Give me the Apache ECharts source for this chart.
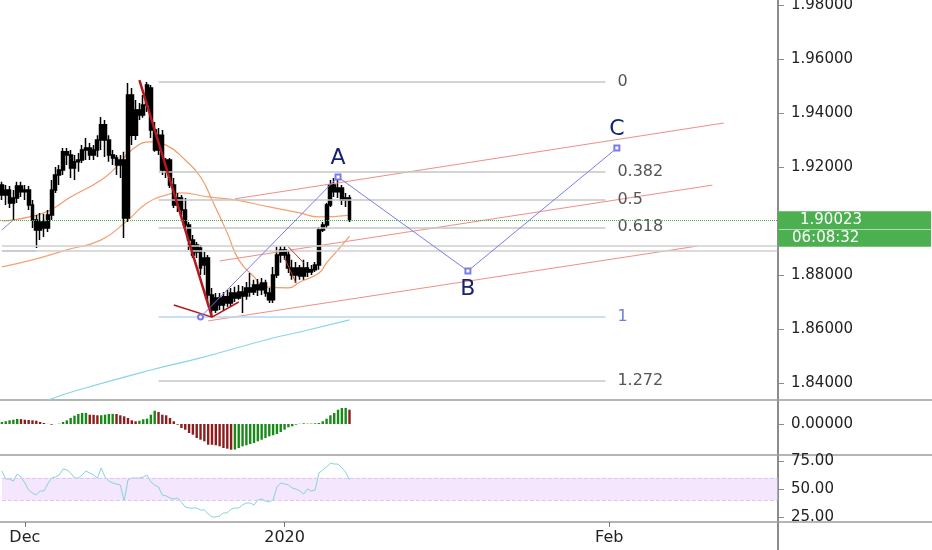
<!DOCTYPE html>
<html><head><meta charset="utf-8">
<script src="https://cdn.jsdelivr.net/npm/echarts@6/dist/echarts.min.js"></script>
<style>html,body{margin:0;padding:0;background:#fff}#c{width:932px;height:550px}</style>
</head><body><div id="c"></div>
<script>
// ---------- data ----------
const opens = [1.9133,1.9096,1.9115,1.9067,1.9085,1.9130,1.9108,1.9115,1.9059,1.9004,
 1.8967,1.8996,1.8974,1.9022,1.9115,1.9170,1.9189,1.9256,1.9244,1.9196,
 1.9219,1.9226,1.9263,1.9270,1.9244,1.9263,1.9300,1.9356,1.9300,1.9244,
 1.9233,1.9207,1.9226,1.9011,1.9467,1.9318,1.9411,1.9393,1.9430,1.9493,
 1.9337,1.9263,1.9318,1.9189,1.9226,1.9133,1.9059,1.9085,1.9041,1.8985,
 1.8930,1.8885,1.8900,1.8837,1.8863,1.8726,1.8670,1.8715,1.8689,1.8719,
 1.8696,1.8733,1.8715,1.8737,1.8722,1.8752,1.8737,1.8763,1.8745,1.8770,
 1.8733,1.8708,1.8800,1.8874,1.8893,1.8874,1.8826,1.8800,1.8826,1.8796,
 1.8826,1.8811,1.8819,1.8837,1.8967,1.8985,1.9059,1.9133,1.9108,1.9122,
 1.9078,1.9085];
const closes = [1.9096,1.9115,1.9067,1.9085,1.9130,1.9108,1.9115,1.9059,1.9004,1.8967,
 1.8996,1.8974,1.9022,1.9115,1.9170,1.9189,1.9256,1.9244,1.9196,1.9219,
 1.9226,1.9263,1.9270,1.9244,1.9263,1.9300,1.9356,1.9300,1.9244,1.9233,
 1.9207,1.9226,1.9011,1.9467,1.9318,1.9411,1.9393,1.9430,1.9504,1.9337,
 1.9263,1.9318,1.9189,1.9226,1.9133,1.9059,1.9085,1.9041,1.8985,1.8930,
 1.8874,1.8911,1.8826,1.8863,1.8726,1.8670,1.8715,1.8689,1.8719,1.8696,
 1.8733,1.8715,1.8737,1.8722,1.8752,1.8737,1.8763,1.8745,1.8770,1.8733,
 1.8708,1.8800,1.8874,1.8893,1.8874,1.8826,1.8800,1.8826,1.8796,1.8826,
 1.8811,1.8819,1.8837,1.8967,1.8985,1.9059,1.9133,1.9108,1.9122,1.9078,
 1.9085,1.90023];
const highs = [1.9145,1.9133,1.9130,1.9115,1.9145,1.9145,1.9133,1.9130,1.9078,1.9022,
 1.9030,1.9026,1.9041,1.9152,1.9200,1.9207,1.9270,1.9270,1.9263,1.9244,
 1.9252,1.9281,1.9307,1.9289,1.9281,1.9318,1.9385,1.9374,1.9318,1.9263,
 1.9244,1.9244,1.9256,1.9511,1.9493,1.9448,1.9437,1.9467,1.9515,1.9504,
 1.9367,1.9344,1.9337,1.9233,1.9233,1.9159,1.9104,1.9096,1.9085,1.8996,
 1.8948,1.8922,1.8911,1.8885,1.8874,1.8752,1.8733,1.8733,1.8737,1.8745,
 1.8752,1.8756,1.8763,1.8759,1.8774,1.8807,1.8782,1.8785,1.8789,1.8782,
 1.8752,1.8830,1.8904,1.8907,1.8907,1.8893,1.8856,1.8848,1.8837,1.8856,
 1.8848,1.8837,1.8848,1.8978,1.8996,1.9067,1.9152,1.9159,1.9152,1.9133,
 1.9104,1.9096];
const lows = [1.9078,1.9059,1.9048,1.9004,1.9067,1.9089,1.9078,1.9041,1.8974,1.8900,
 1.8930,1.8941,1.8959,1.9004,1.9104,1.9133,1.9170,1.9207,1.9159,1.9152,
 1.9182,1.9215,1.9226,1.9226,1.9226,1.9237,1.9263,1.9237,1.9219,1.9207,
 1.9170,1.9159,1.8937,1.8996,1.9281,1.9300,1.9374,1.9382,1.9404,1.9307,
 1.9256,1.9244,1.9170,1.9159,1.9122,1.9048,1.9033,1.9022,1.8974,1.8893,
 1.8863,1.8863,1.8800,1.8800,1.8700,1.8644,1.8659,1.8670,1.8670,1.8682,
 1.8685,1.8700,1.8708,1.8659,1.8708,1.8719,1.8726,1.8722,1.8726,1.8719,
 1.8696,1.8696,1.8789,1.8845,1.8856,1.8807,1.8782,1.8770,1.8782,1.8782,
 1.8793,1.8800,1.8811,1.8819,1.8959,1.8974,1.9052,1.9089,1.9085,1.9059,
 1.9052,1.8996];
const macdHist = [0.00020,0.00027,0.00037,0.00043,0.00050,0.00049,0.00043,0.00040,0.00037,0.00033,
 0.00020,0.00010,0.00001,-0.00007,0.00000,0.00003,0.00020,0.00037,0.00060,0.00083,
 0.00100,0.00110,0.00111,0.00093,0.00092,0.00087,0.00088,0.00093,0.00100,0.00101,
 0.00100,0.00087,0.00077,0.00060,0.00037,0.00027,0.00033,0.00047,0.00053,0.00093,
 0.00133,0.00120,0.00093,0.00087,0.00060,0.00027,-0.00007,-0.00040,-0.00057,-0.00090,
 -0.00107,-0.00140,-0.00157,-0.00173,-0.00207,-0.00208,-0.00213,-0.00223,-0.00240,-0.00247,
 -0.00257,-0.00256,-0.00240,-0.00223,-0.00213,-0.00200,-0.00190,-0.00173,-0.00157,-0.00140,
 -0.00123,-0.00113,-0.00100,-0.00080,-0.00057,-0.00033,-0.00023,-0.00007,0.00002,0.00007,
 0.00003,0.00004,0.00007,0.00010,0.00027,0.00053,0.00087,0.00110,0.00143,0.00160,
 0.00161,0.00143];
const rsi = [66.1,58.9,58.9,57.1,63.4,60.7,55.4,49.1,46.4,44.6,
 48.2,48.2,54.5,59.8,60.7,62.5,67.9,67.0,64.3,59.8,
 59.8,62.5,66.1,64.3,62.5,59.8,68.8,60.7,57.1,55.4,
 54.5,53.6,39.3,58.0,59.8,59.8,59.8,60.7,62.5,56.3,
 53.6,51.8,44.6,43.8,42.0,41.1,42.0,38.4,33.9,33.0,
 33.0,33.0,31.3,31.3,27.7,25.0,25.0,25.9,28.6,28.6,
 32.1,33.0,33.0,35.7,37.5,37.5,35.7,40.2,41.1,39.3,
 38.4,40.2,51.8,55.4,54.5,53.6,50.9,50.0,48.2,45.5,
 50.0,48.2,49.1,64.3,67.0,69.6,73.2,72.3,72.3,68.8,
 65.2,58.0];
const maFast = [[0,1.9000],[11,1.9030],[18,1.9089],[26,1.9152],[30,1.9200],[34,1.9263],[39,1.9293],[43,1.9281],[48,1.9226],[52,1.9163],[55,1.9078],[59,1.8956],[62,1.8856],[66,1.8793],[69,1.8756],[75,1.8752],[78,1.8774],[83,1.8807],[85,1.8845],[88,1.8893],[91,1.8944]];
const maSlow = [[0,1.8830],[8,1.8856],[17,1.8893],[26,1.8930],[33,1.9004],[38,1.9067],[43,1.9096],[47,1.9104],[54,1.9089],[61,1.9078],[70,1.9052],[78,1.9030],[83,1.9015],[91,1.9022]];
const maLong = [[0,1.8278],[12,1.8337],[20,1.8374],[39,1.8448],[52,1.8493],[70,1.8563],[78,1.8589],[91,1.8634]];

const priceTicks = [1.84,1.86,1.88,1.92,1.94,1.96,1.98];
const macdTicks = [0];
const rsiTicks = [25,50,75];
const rsiBand = [40,60];
const xTickIndex = [6,74,159];
const xTickText = ['Dec','2020','Feb'];

const fibHigh = 1.9515, fibLow = 1.8644;
const fibRatios = [0,0.382,0.5,0.618,1,1.272];
const fibLabels = ['0','0.382','0.5','0.618','1','1.272'];
const fibSpan = [41,158];
const hLines = [1.8907,1.8889];
const hLineSpan = [0,203];

const abcPoints = [[52,1.8644],[88,1.9163],[122,1.8815],[161,1.9270]];
const abcLabels = ['','A','B','C'];
const pitchfork = [
  [[61,1.9082],[189,1.9363]],
  [[57,1.8852],[186,1.9133]],
  [[54,1.8630],[182,1.8907]]
];
const trendRed = [[36,1.9522],[55,1.8644]];
const redV = [[45,1.8689],[55,1.8644],[62,1.8700]];
const redSmall = [[[75,1.8904],[79,1.8845]],[[74,1.8863],[77,1.8770]]];
const blueLeft = [[[0,1.8967],[3,1.9004]],[[0,1.8889],[9,1.8889]]];
const lastPrice = 1.90023;
const countdown = '06:08:32';
const barSlots = 244;

// ---------- chart ----------
const FONT = 'DejaVu Sans';
const cats = Array.from({length: barSlots}, (_, i) => 'b' + i);
const candleData = opens.map((o, i) => [o, closes[i], lows[i], highs[i]]);
const fibLevels = fibRatios.map(r => fibHigh - r * (fibHigh - fibLow));

const chart = echarts.init(document.getElementById('c'));

const xBase = gi => ({
  type: 'category', gridIndex: gi, data: cats, boundaryGap: true,
  axisLine: {show: true, onZero: false, lineStyle: {color: '#9c9c9c', width: 1.5}},
  axisTick: {show: false}, axisLabel: {show: false}, splitLine: {show: false}
});
const yBase = (gi, min, max, ticks, fmt) => ({
  type: 'value', gridIndex: gi, position: 'right', offset: -154, min, max,
  splitLine: {show: false},
  axisLine: {show: true, lineStyle: {color: '#8c8c8c', width: 2}},
  axisTick: {show: true, length: 6, customValues: ticks, lineStyle: {color: '#8c8c8c'}},
  axisLabel: {show: true, customValues: ticks, formatter: fmt, color: '#222', fontSize: 15, margin: 13, fontFamily: FONT}
});

const x2 = xBase(2);
x2.axisTick = {show: true, alignWithLabel: true, length: 5, interval: i => xTickIndex.includes(i), lineStyle: {color: '#777'}};
x2.axisLabel = {show: true, interval: i => xTickIndex.includes(i), formatter: (v, i) => xTickText[xTickIndex.indexOf(i)] || '', color: '#222', fontSize: 16, margin: 8, fontFamily: FONT};
const x3 = xBase(3);
x3.show = false;

const y0 = yBase(0, 1.8337, 1.98185, priceTicks, v => v.toFixed(5));
y0.axisPointer = {
  show: true, type: 'line', value: lastPrice, status: 'show', snap: false, triggerTooltip: false,
  lineStyle: {color: '#4caf50', type: 'dotted', width: 1},
  label: {
    show: true, margin: 0, padding: [0, 0, 3, 0], backgroundColor: 'rgba(0,0,0,0)', shadowBlur: 0, shadowColor: 'rgba(0,0,0,0)',
    formatter: () => '{a|' + lastPrice.toFixed(5) + '}\n{b|' + countdown + '}',
    fontSize: 15, fontFamily: FONT,
    rich: {
      a: {backgroundColor: '#4caf50', color: '#fff', fontSize: 15, fontFamily: FONT, width: 131, height: 18, lineHeight: 18, padding: [0, 0, 0, 22]},
      b: {backgroundColor: '#4caf50', color: '#fff', fontSize: 15, fontFamily: FONT, width: 139, height: 17, lineHeight: 18, padding: [0, 0, 0, 14]}
    }
  }
};
const y3 = yBase(3, 0, 1, [], v => '');
y3.axisTick = {show: false};
y3.axisLabel = {show: false};

const seg = (data, color, width, z) => ({type: 'line', xAxisIndex: 0, yAxisIndex: 0, data, symbol: 'none', silent: true,
  lineStyle: {color, width}, z});

const fibMark = fibLevels.map((lv, k) => {
  const isOne = fibRatios[k] === 1;
  return [{coord: [fibSpan[0], lv], lineStyle: {color: isOne ? '#b9d6f3' : '#c6c6c6', width: 1.5, type: 'solid'},
    label: {show: true, position: 'end', distance: 12, formatter: fibLabels[k], color: isOne ? '#6d7fd8' : '#555', fontSize: 16, fontFamily: FONT}},
    {coord: [fibSpan[1], lv]}];
});
const hMark = hLines.map(v => [{coord: [hLineSpan[0], v], lineStyle: {color: '#cfcfcf', width: 1.5, type: 'solid'}, label: {show: false}}, {coord: [hLineSpan[1], v]}]);

const series = [
  {type: 'line', xAxisIndex: 0, yAxisIndex: 0, data: maLong, smooth: true, symbol: 'none', silent: true, lineStyle: {color: '#86d6ea', width: 1.2}, z: 2},
  {type: 'line', xAxisIndex: 0, yAxisIndex: 0, data: maSlow, smooth: true, symbol: 'none', silent: true, lineStyle: {color: '#f5a272', width: 1.2}, z: 2,
   markLine: {silent: true, symbol: ['none', 'none'], animation: false, data: [...fibMark, ...hMark]}},
  {type: 'line', xAxisIndex: 0, yAxisIndex: 0, data: maFast, smooth: true, symbol: 'none', silent: true, lineStyle: {color: '#f39a68', width: 1.2}, z: 2},
  {type: 'candlestick', xAxisIndex: 0, yAxisIndex: 0, data: candleData, barWidth: 3.4,
   itemStyle: {color: '#000', color0: '#000', borderColor: '#000', borderColor0: '#000', borderWidth: 1.5}, z: 3},
  ...pitchfork.map(p => seg(p, '#f08e86', 1, 4)),
  ...blueLeft.map(p => seg(p, '#7c86e8', 1, 4)),
  seg(trendRed, '#b3191c', 2.5, 5),
  seg(redV, '#b3191c', 1.5, 5),
  ...redSmall.map(p => seg(p, '#c0392b', 1, 5)),
  {type: 'line', xAxisIndex: 0, yAxisIndex: 0, z: 6, silent: true, showAllSymbol: true, showSymbol: true,
   data: abcPoints.map((p, k) => ({value: p, symbol: k === 0 ? 'emptyCircle' : 'emptyRect',
     label: {show: !!abcLabels[k], position: (k > 0 && p[1] < abcPoints[k - 1][1]) ? 'bottom' : 'top'}})),
   symbolSize: 5, lineStyle: {color: '#7a7cec', width: 1}, itemStyle: {color: '#7a7cec', borderWidth: 1},
   label: {show: true, formatter: p => abcLabels[p.dataIndex], color: '#18226e', fontSize: 22, fontFamily: FONT, distance: 4}},
  {type: 'bar', xAxisIndex: 1, yAxisIndex: 1, data: macdHist, barWidth: 2.4, silent: true,
   itemStyle: {color: p => (p.dataIndex === 0 || macdHist[p.dataIndex] >= macdHist[p.dataIndex - 1]) ? '#178a17' : '#8e1c1c'}},
  {type: 'line', xAxisIndex: 2, yAxisIndex: 2, data: rsi, symbol: 'none', silent: true, lineStyle: {color: '#86d3dc', width: 1}, z: 3,
   markArea: {silent: true, itemStyle: {color: '#f4e6fc'}, data: [[{coord: [hLineSpan[0], rsiBand[1]]}, {coord: [hLineSpan[1], rsiBand[0]]}]]},
   markLine: {silent: true, symbol: ['none', 'none'], label: {show: false}, lineStyle: {color: '#dcc8ef', type: 'dashed', width: 1},
     data: rsiBand.map(v => [{coord: [hLineSpan[0], v]}, {coord: [hLineSpan[1], v]}])}}
];

chart.setOption({
  animation: false,
  backgroundColor: '#fff',
  axisPointer: {triggerOn: 'none'},
  grid: [
    {left: 0, right: 0, top: 0, height: 400, outerBoundsMode: 'none'},
    {left: 0, right: 0, top: 401, height: 54, outerBoundsMode: 'none'},
    {left: 0, right: 0, top: 456, height: 66, outerBoundsMode: 'none'},
    {left: 0, right: 0, top: 523, height: 27, outerBoundsMode: 'none'}
  ],
  xAxis: [xBase(0), xBase(1), x2, x3],
  yAxis: [
    y0,
    yBase(1, -0.0031, 0.0023, macdTicks, v => v.toFixed(5)),
    yBase(2, 20.5, 79.5, rsiTicks, v => v.toFixed(2)),
    y3
  ],
  series
});
</script></body></html>
